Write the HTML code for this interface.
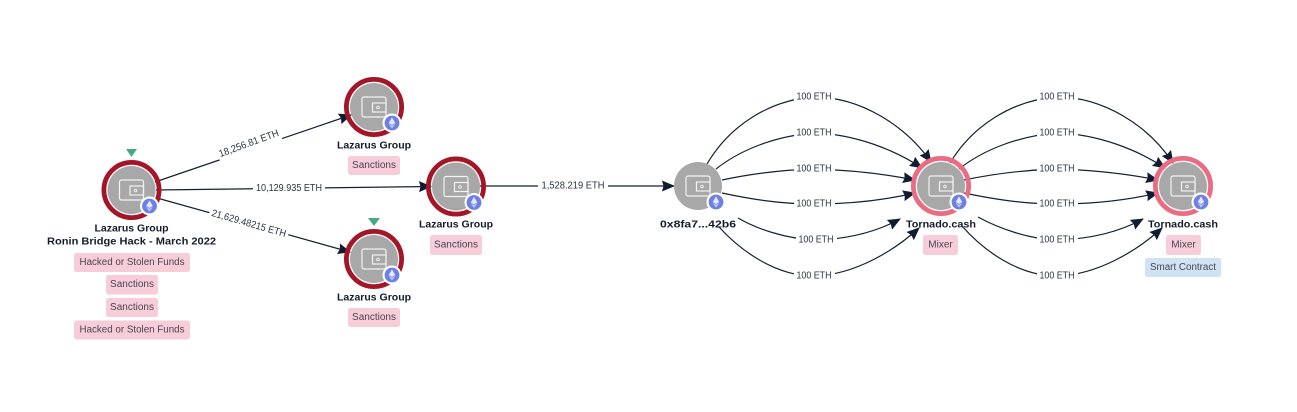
<!DOCTYPE html>
<html>
<head>
<meta charset="utf-8">
<style>
html,body{margin:0;padding:0;background:#fff;}
svg{display:block;}
text{font-family:"Liberation Sans",sans-serif;}
.edge{fill:none;stroke:#172133;stroke-width:1.2;marker-end:url(#arrow);}
.lbl{font-size:10px;fill:#2b3240;text-anchor:middle;dominant-baseline:central;}
.name{font-size:10.5px;font-weight:bold;fill:#141c2a;text-anchor:middle;dominant-baseline:central;}
.tag{font-size:10px;fill:#4a4550;text-anchor:middle;dominant-baseline:central;}
.bg{fill:#fff;}
.pink{fill:#f7cdd9;}
.blue{fill:#cfe3f5;}
</style>
</head>
<body>
<svg width="1297" height="412" viewBox="0 0 1297 412" xmlns="http://www.w3.org/2000/svg">
<defs>
<marker id="arrow" markerUnits="userSpaceOnUse" markerWidth="15" markerHeight="13" refX="12" refY="6" orient="auto">
<path d="M0,0.5 L13,6 L0,11.5 L1.5,6 Z" fill="#101c30"/>
</marker>
<g id="core">
<circle r="24" fill="#a8a8a8"/>
<rect x="-12" y="-10" width="24" height="20" rx="2" fill="none" stroke="#f2f2f2" stroke-width="1.2"/>
<rect x="-1.5" y="-4" width="13.5" height="9" fill="none" stroke="#f2f2f2" stroke-width="1.2"/>
<circle cx="4" cy="0.5" r="1.3" fill="none" stroke="#f2f2f2" stroke-width="0.9"/>
</g>
<g id="badge">
<circle cx="18" cy="16" r="9.5" fill="#fff"/>
<circle cx="18" cy="16" r="7.4" fill="#6f80e3"/>
<path d="M18,10.5 L21.3,16 L18,18 L14.7,16 Z" fill="#e4e8fb"/>
<path d="M18,18.8 L21.3,16.9 L18,21.5 L14.7,16.9 Z" fill="#c7cff6"/>
</g>
<g id="dark"><circle r="27.6" fill="none" stroke="#a31628" stroke-width="4.8"/><use href="#core"/><use href="#badge"/></g>
<g id="light"><circle r="27.6" fill="none" stroke="#e96c82" stroke-width="4.8"/><use href="#core"/><use href="#badge"/></g>
</defs>

<rect width="1297" height="412" fill="#fff"/>

<!-- left edges -->
<path class="edge" d="M155,182 L351,115"/>
<path class="edge" d="M156,190 L431,186.5"/>
<path class="edge" d="M157,198 L350,252"/>
<path class="edge" d="M480,186 L674,186"/>

<!-- first bundle -->
<path class="edge" d="M707,164 C730,125 770,100 814,97 C860,97 905,125 931,162"/>
<path class="edge" d="M716,169 C740,150 775,136 814,133 C855,134 895,150 922,168"/>
<path class="edge" d="M722,180 C750,174 780,170 814,169 C850,170 885,174 915,180"/>
<path class="edge" d="M722,193 C750,199 780,204 814,204 C850,204 885,200 915,193"/>
<path class="edge" d="M738,218 C755,228 785,239 816,240 C850,239 878,231 900,219"/>
<path class="edge" d="M719,227 C740,250 775,276 814,276 C855,275 895,250 919,228"/>

<!-- second bundle -->
<path class="edge" d="M950,163 C973,125 1013,100 1057,97 C1103,97 1148,125 1173,163"/>
<path class="edge" d="M959,169 C983,150 1018,136 1057,133 C1098,134 1138,150 1165,168"/>
<path class="edge" d="M964,180 C993,174 1023,170 1057,169 C1093,170 1128,174 1158,180"/>
<path class="edge" d="M964,193 C993,199 1023,204 1057,204 C1093,204 1128,200 1158,193"/>
<path class="edge" d="M978,217 C998,228 1028,239 1057,240 C1093,239 1121,231 1143,219"/>
<path class="edge" d="M962,226 C983,250 1018,276 1057,276 C1098,275 1138,250 1162,228"/>

<!-- edge labels -->
<g transform="translate(249,144) rotate(-20)"><rect class="bg" x="-33" y="-7" width="66" height="14"/><text class="lbl" textLength="63" lengthAdjust="spacingAndGlyphs">18,256.81 ETH</text></g>
<g transform="translate(289,188.5)"><rect class="bg" x="-36" y="-7" width="72" height="14"/><text class="lbl" textLength="66" lengthAdjust="spacingAndGlyphs">10,129.935 ETH</text></g>
<g transform="translate(248.7,224) rotate(16)"><rect class="bg" x="-41" y="-7" width="82" height="14"/><text class="lbl" textLength="77" lengthAdjust="spacingAndGlyphs">21,629.48215 ETH</text></g>
<g transform="translate(573,186)"><rect class="bg" x="-35" y="-7" width="70" height="14"/><text class="lbl" textLength="63" lengthAdjust="spacingAndGlyphs">1,528.219 ETH</text></g>

<g>
<rect class="bg" x="794" y="90" width="41" height="14"/><text class="lbl" x="814" y="97" textLength="35" lengthAdjust="spacingAndGlyphs">100 ETH</text>
<rect class="bg" x="794" y="126" width="41" height="14"/><text class="lbl" x="814" y="133" textLength="35" lengthAdjust="spacingAndGlyphs">100 ETH</text>
<rect class="bg" x="794" y="162" width="41" height="14"/><text class="lbl" x="814" y="169" textLength="35" lengthAdjust="spacingAndGlyphs">100 ETH</text>
<rect class="bg" x="794" y="197" width="41" height="14"/><text class="lbl" x="814" y="204" textLength="35" lengthAdjust="spacingAndGlyphs">100 ETH</text>
<rect class="bg" x="796" y="233" width="41" height="14"/><text class="lbl" x="816" y="240" textLength="35" lengthAdjust="spacingAndGlyphs">100 ETH</text>
<rect class="bg" x="794" y="269" width="41" height="14"/><text class="lbl" x="814" y="276" textLength="35" lengthAdjust="spacingAndGlyphs">100 ETH</text>
<rect class="bg" x="1037" y="90" width="41" height="14"/><text class="lbl" x="1057" y="97" textLength="35" lengthAdjust="spacingAndGlyphs">100 ETH</text>
<rect class="bg" x="1037" y="126" width="41" height="14"/><text class="lbl" x="1057" y="133" textLength="35" lengthAdjust="spacingAndGlyphs">100 ETH</text>
<rect class="bg" x="1037" y="162" width="41" height="14"/><text class="lbl" x="1057" y="169" textLength="35" lengthAdjust="spacingAndGlyphs">100 ETH</text>
<rect class="bg" x="1037" y="197" width="41" height="14"/><text class="lbl" x="1057" y="204" textLength="35" lengthAdjust="spacingAndGlyphs">100 ETH</text>
<rect class="bg" x="1037" y="233" width="41" height="14"/><text class="lbl" x="1057" y="240" textLength="35" lengthAdjust="spacingAndGlyphs">100 ETH</text>
<rect class="bg" x="1037" y="269" width="41" height="14"/><text class="lbl" x="1057" y="276" textLength="35" lengthAdjust="spacingAndGlyphs">100 ETH</text>
</g>

<!-- nodes -->
<use href="#dark" x="131.5" y="190"/>
<use href="#dark" x="374" y="107"/>
<use href="#dark" x="456" y="186.5"/>
<use href="#dark" x="374" y="259"/>
<use href="#core" x="698" y="186"/>
<use href="#badge" x="698" y="186"/>
<use href="#light" x="941" y="186"/>
<use href="#light" x="1183" y="186"/>

<!-- markers -->
<path d="M126,149 L137,149 L131.5,157 Z" fill="#46ab84"/>
<path d="M368,218 L380,218 L374,226 Z" fill="#46ab84"/>

<!-- node names -->
<text class="name" x="131.5" y="228.5">Lazarus Group</text>
<text class="name" x="131.5" y="241.5" textLength="169" lengthAdjust="spacingAndGlyphs">Ronin Bridge Hack - March 2022</text>
<text class="name" x="374" y="145.5">Lazarus Group</text>
<text class="name" x="456" y="224.5">Lazarus Group</text>
<text class="name" x="374" y="297.5">Lazarus Group</text>
<text class="name" x="698" y="224.5" textLength="76" lengthAdjust="spacingAndGlyphs">0x8fa7...42b6</text>
<text class="name" x="941" y="224.5" textLength="70" lengthAdjust="spacingAndGlyphs">Tornado.cash</text>
<text class="name" x="1183" y="224.5" textLength="70" lengthAdjust="spacingAndGlyphs">Tornado.cash</text>

<!-- tags -->
<rect class="pink" x="74" y="253" width="116" height="19" rx="2.5"/><text class="tag" x="132" y="262.5" textLength="105" lengthAdjust="spacingAndGlyphs">Hacked or Stolen Funds</text>
<rect class="pink" x="106" y="275" width="52" height="19.5" rx="2.5"/><text class="tag" x="132" y="284.7">Sanctions</text>
<rect class="pink" x="106" y="298" width="52" height="19" rx="2.5"/><text class="tag" x="132" y="307.5">Sanctions</text>
<rect class="pink" x="74" y="320.5" width="116" height="19" rx="2.5"/><text class="tag" x="132" y="330" textLength="105" lengthAdjust="spacingAndGlyphs">Hacked or Stolen Funds</text>
<rect class="pink" x="348" y="156" width="52" height="19" rx="2.5"/><text class="tag" x="374" y="165.5">Sanctions</text>
<rect class="pink" x="430" y="235" width="52" height="20" rx="2.5"/><text class="tag" x="456" y="245">Sanctions</text>
<rect class="pink" x="348" y="308" width="52" height="19" rx="2.5"/><text class="tag" x="374" y="317.5">Sanctions</text>
<rect class="pink" x="923" y="235" width="35" height="20" rx="2.5"/><text class="tag" x="940.5" y="245">Mixer</text>
<rect class="pink" x="1166" y="235" width="35" height="20" rx="2.5"/><text class="tag" x="1183.5" y="245">Mixer</text>
<rect class="blue" x="1145" y="258" width="76" height="19" rx="2.5"/><text class="tag" x="1183" y="267.5" textLength="66" lengthAdjust="spacingAndGlyphs">Smart Contract</text>
</svg>
</body>
</html>
